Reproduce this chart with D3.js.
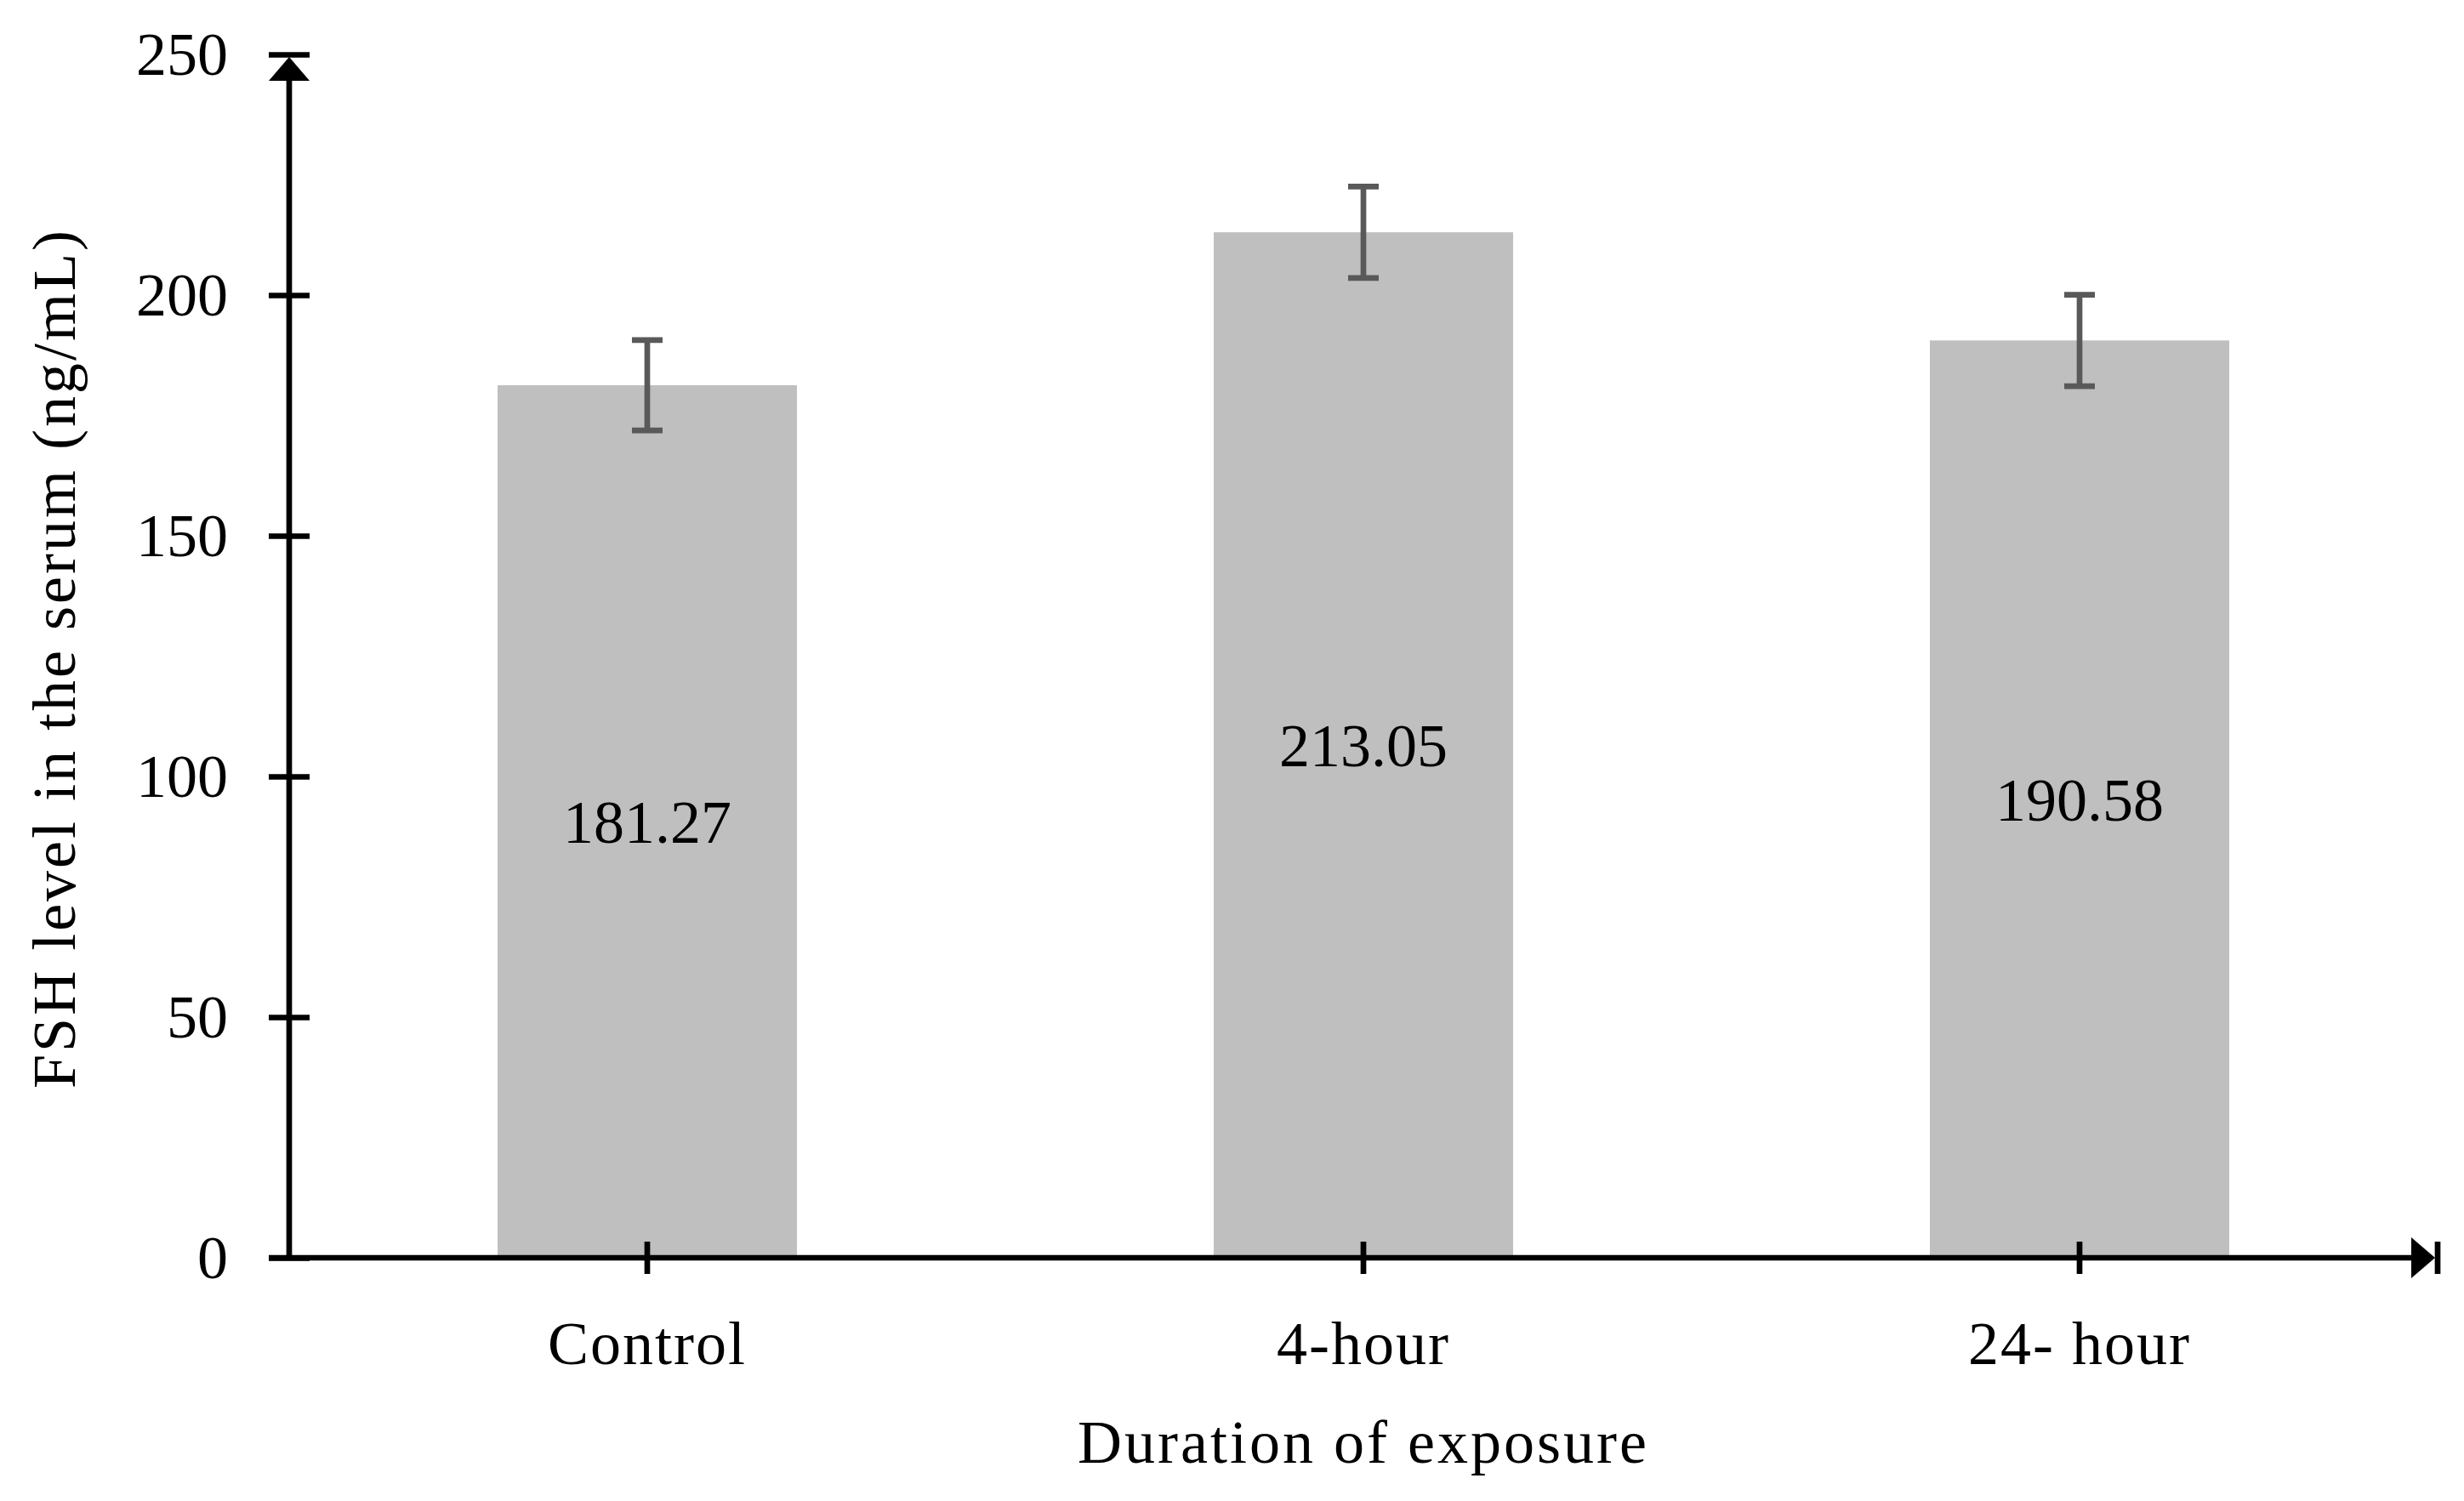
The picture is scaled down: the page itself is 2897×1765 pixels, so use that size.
<!DOCTYPE html>
<html>
<head>
<meta charset="utf-8">
<script src="https://cdn.jsdelivr.net/npm/d3@7"></script>
<style>
  body { margin: 0; background: #fff; }
  text { font-family: "Palatino Linotype", "Book Antiqua", Palatino, "Liberation Serif", serif; fill: #000; }
</style>
</head>
<body>
<svg id="chart" width="2897" height="1765"></svg>
<script>
// data
var categories = ["Control", "4-hour", "24- hour"];
var means = [181.27, 213.05, 190.58];
var errors = [9.4, 9.5, 9.5];
var yTicks = [0, 50, 100, 150, 200, 250];

var plotLeft = 340, plotRight = 2866, plotTop = 64, plotBottom = 1479;
var fontSize = 72;

var svg = d3.select("#chart");

var x = d3.scaleBand().domain(categories).range([plotLeft, plotRight]).padding(0);
var y = d3.scaleLinear().domain([0, 250]).range([plotBottom, plotTop]);
var barW = x.bandwidth() * 0.418;

/*
 * bars
 */
svg.append("g").selectAll("rect").data(means).enter().append("rect")
  .attr("x", function(d, i){ return x(categories[i]) + x.bandwidth() / 2 - barW / 2; })
  .attr("y", function(d){ return y(d); })
  .attr("width", barW)
  .attr("height", function(d){ return y(0) - y(d); })
  .attr("fill", "#bfbfbf");

/*
 * error bars
 */
var err = svg.append("g").attr("stroke", "#595959").attr("stroke-width", 6.7);
means.forEach(function(m, i){
  var cx = x(categories[i]) + x.bandwidth() / 2;
  var e = errors[i];
  err.append("line").attr("x1", cx).attr("x2", cx).attr("y1", y(m + e)).attr("y2", y(m - e));
  err.append("line").attr("x1", cx - 18).attr("x2", cx + 18).attr("y1", y(m + e)).attr("y2", y(m + e));
  err.append("line").attr("x1", cx - 18).attr("x2", cx + 18).attr("y1", y(m - e)).attr("y2", y(m - e));
});

/*
 * value labels in the middle of each bar
 */
svg.append("g").selectAll("text").data(means).enter().append("text")
  .attr("x", function(d, i){ return x(categories[i]) + x.bandwidth() / 2; })
  .attr("y", function(d){ return y(d / 2); })
  .attr("dy", "0.35em")
  .attr("text-anchor", "middle")
  .attr("font-size", fontSize)
  .text(function(d){ return d.toFixed(2); });

/*
 * y axis
 */
var yAxis = svg.append("g").attr("transform", "translate(" + plotLeft + ",0)")
  .call(d3.axisLeft(y).tickValues(yTicks).tickSizeInner(24).tickSizeOuter(0).tickPadding(48));
yAxis.select(".domain").remove();
yAxis.selectAll(".tick line").attr("x1", 24).attr("x2", -24).attr("stroke", "#000").attr("stroke-width", 6.7);
yAxis.selectAll(".tick text").attr("font-size", fontSize).attr("font-family", null).attr("dy", "0.32em");

svg.append("line").attr("x1", plotLeft).attr("x2", plotLeft).attr("y1", y(0) + 3).attr("y2", y(250) + 30)
  .attr("stroke", "#000").attr("stroke-width", 6.7);
svg.append("path")
  .attr("d", "M" + plotLeft + "," + (y(250) + 3) + "L" + (plotLeft + 24) + "," + (y(250) + 31) + "L" + (plotLeft - 24) + "," + (y(250) + 31) + "Z")
  .attr("fill", "#000");

/*
 * x axis
 */
var xAxis = svg.append("g").attr("transform", "translate(0," + plotBottom + ")")
  .call(d3.axisBottom(x).tickSizeInner(19).tickSizeOuter(0).tickPadding(55));
xAxis.select(".domain").remove();
xAxis.selectAll(".tick line").attr("y1", -19).attr("y2", 19).attr("stroke", "#000").attr("stroke-width", 6.7);
xAxis.selectAll(".tick text").attr("font-size", fontSize).attr("font-family", null)
  .attr("letter-spacing", 2);

svg.append("line").attr("x1", plotLeft - 24).attr("x2", plotRight - 30).attr("y1", plotBottom).attr("y2", plotBottom)
  .attr("stroke", "#000").attr("stroke-width", 6.7);
svg.append("path")
  .attr("d", "M" + (plotRight - 3) + "," + plotBottom + "L" + (plotRight - 31) + "," + (plotBottom - 24) + "L" + (plotRight - 31) + "," + (plotBottom + 24) + "Z")
  .attr("fill", "#000");
svg.append("line").attr("x1", plotRight).attr("x2", plotRight).attr("y1", plotBottom - 19).attr("y2", plotBottom + 19)
  .attr("stroke", "#000").attr("stroke-width", 6.7);

/*
 * axis titles
 */
svg.append("text")
  .attr("x", (plotLeft + plotRight) / 2).attr("y", 1720)
  .attr("text-anchor", "middle").attr("font-size", fontSize).attr("letter-spacing", 3)
  .text("Duration of exposure");

svg.append("text")
  .attr("transform", "translate(88,774) rotate(-90)")
  .attr("text-anchor", "middle").attr("font-size", fontSize).attr("letter-spacing", 3)
  .text("FSH level in the serum (ng/mL)");
</script>
</body>
</html>
